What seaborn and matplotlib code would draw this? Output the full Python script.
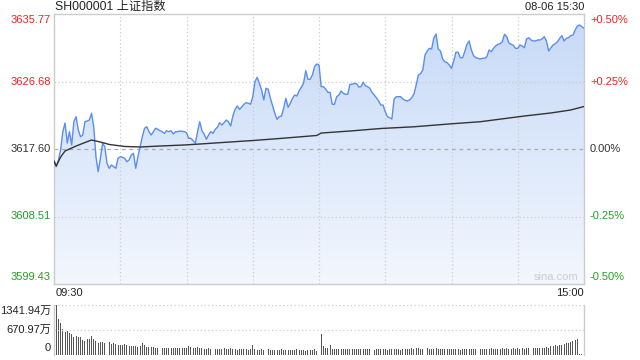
import numpy as np
import matplotlib
matplotlib.use("Agg")
import matplotlib.pyplot as plt
import seaborn as sns
from matplotlib.colors import LinearSegmentedColormap

sns.set_theme(style="white")
plt.rcParams['font.family'] = ['Liberation Sans', 'Noto Sans CJK SC', 'DejaVu Sans']

# ---- data (one value per minute, 09:30 .. 15:00) ----
prev_close = 3617.60
price_ticks = [3635.77, 3626.68, 3617.60, 3608.51, 3599.43]
pct_ticks = ["+0.50%", "+0.25%", "0.00%", "-0.25%", "-0.50%"]
vol_ticks = ["1341.94万", "670.97万", "0"]
vol_max = 1341.94

price = [
    3615.99, 3615.22, 3616.12, 3617.47, 3619.93, 3621.10, 3618.41, 3619.93, 3618.14, 3621.27,
    3621.95, 3620.16, 3619.26, 3619.48, 3621.27, 3621.37, 3621.50, 3622.41, 3620.60, 3616.56,
    3614.54, 3616.35, 3618.37, 3617.91, 3615.68, 3615.00, 3615.45, 3615.22, 3615.00, 3616.35,
    3616.56, 3616.48, 3616.35, 3615.89, 3616.12, 3616.79, 3617.02, 3615.00, 3616.56, 3617.91,
    3619.26, 3620.39, 3620.60, 3619.93, 3619.48, 3619.93, 3620.39, 3620.25, 3620.06, 3619.93,
    3619.71, 3620.06, 3619.93, 3620.06, 3619.62, 3619.93, 3619.93, 3620.02, 3619.98, 3619.93,
    3619.79, 3619.04, 3619.04, 3618.72, 3618.37, 3619.93, 3621.27, 3620.06, 3619.62, 3618.91,
    3619.48, 3619.93, 3619.71, 3620.25, 3620.52, 3621.14, 3620.83, 3621.14, 3621.50, 3621.27,
    3620.70, 3622.04, 3622.94, 3623.39, 3622.94, 3623.25, 3623.62, 3623.83, 3623.75, 3623.62,
    3624.64, 3626.66, 3627.25, 3626.44, 3625.54, 3624.20, 3625.77, 3625.64, 3624.42, 3623.39,
    3622.41, 3621.60, 3621.95, 3622.04, 3623.08, 3624.42, 3623.21, 3623.75, 3624.42, 3624.87,
    3624.73, 3625.45, 3625.90, 3626.44, 3628.14, 3626.98, 3626.98, 3627.56, 3628.68, 3629.04,
    3628.91, 3625.99, 3625.99, 3625.68, 3625.23, 3625.23, 3623.62, 3623.62, 3624.64, 3624.87,
    3625.41, 3625.10, 3624.96, 3624.96, 3626.31, 3626.31, 3626.44, 3626.39, 3625.95, 3625.99,
    3626.58, 3626.12, 3625.99, 3625.77, 3625.23, 3624.87, 3624.50, 3624.06, 3623.52, 3623.52,
    3622.62, 3621.95, 3621.81, 3621.64, 3624.33, 3624.64, 3624.64, 3624.64, 3624.33, 3624.15,
    3624.06, 3624.20, 3624.50, 3625.00, 3626.21, 3627.56, 3627.74, 3628.23, 3630.25, 3630.79,
    3631.15, 3631.06, 3632.54, 3633.08, 3631.06, 3630.79, 3629.71, 3629.35, 3629.22, 3628.91,
    3628.46, 3629.44, 3630.62, 3630.62, 3629.89, 3629.89, 3630.70, 3631.69, 3632.14, 3630.93,
    3630.16, 3629.89, 3629.81, 3629.71, 3629.81, 3629.81, 3630.02, 3630.93, 3630.70, 3631.15,
    3631.46, 3631.69, 3631.77, 3632.04, 3633.04, 3632.72, 3631.87, 3631.69, 3631.56, 3631.15,
    3631.15, 3631.60, 3631.46, 3631.23, 3632.41, 3632.58, 3632.27, 3632.14, 3632.14, 3632.27,
    3632.27, 3632.41, 3632.72, 3632.14, 3630.79, 3631.23, 3631.60, 3631.77, 3632.04, 3632.50,
    3632.85, 3632.14, 3632.50, 3632.58, 3632.85, 3632.94, 3633.62, 3634.16, 3634.29, 3634.06,
    3633.85,
]

# average price line, read at a set of minutes
avg_minute = [0, 1, 3, 5, 10, 14, 17, 21, 25, 32, 39, 48, 59, 66, 75, 90, 102, 119, 121,
              134, 148, 163, 179, 193, 213, 225, 234, 240]
avg_price = [3615.98, 3615.31, 3616.52, 3617.33, 3618.00, 3618.47, 3618.81, 3618.54, 3618.21,
             3617.94, 3617.87, 3618.00, 3618.14, 3618.27, 3618.45, 3618.74, 3619.01, 3619.42,
             3619.75, 3620.02, 3620.36, 3620.59, 3620.97, 3621.27, 3622.04, 3622.45, 3622.85,
             3623.32]

# volume per minute, in 万
volume = [
    400, 1341.94, 960, 860, 690, 630, 650, 600, 560, 490,
    510, 470, 470, 400, 380, 420, 440, 510, 430, 385,
    330, 360, 350, 330, 315, 360, 295, 315, 295, 270,
    270, 270, 290, 270, 240, 250, 230, 240, 220, 235,
    330, 280, 220, 210, 205, 215, 200, 195, 210, 190,
    200, 185, 195, 190, 180, 200, 185, 175, 190, 195,
    180, 230, 210, 200, 185, 220, 190, 180, 165, 160,
    175, 150, 165, 170, 155, 160, 150, 175, 160, 150,
    185, 155, 160, 145, 170, 150, 160, 155, 145, 160,
    260, 150, 145, 140, 150, 135, 145, 150, 140, 130,
    145, 140, 135, 150, 130, 140, 145, 135, 140, 130,
    155, 125, 135, 145, 120, 130, 140, 125, 150, 115,
    130, 560, 240, 180, 175, 270, 165, 160, 170, 155,
    160, 165, 150, 160, 170, 155, 150, 160, 165, 150,
    155, 160, 150, 165, 155, 145, 160, 150, 155, 165,
    150, 145, 160, 170, 150, 155, 160, 145, 150, 165,
    155, 170, 175, 160, 200, 185, 165, 160, 210, 195,
    170, 165, 160, 175, 150, 160, 155, 165, 150, 160,
    155, 150, 165, 155, 145, 160, 150, 170, 155, 150,
    160, 165, 150, 160, 155, 170, 160, 150, 175, 165,
    160, 170, 160, 175, 165, 180, 160, 170, 185, 165,
    175, 170, 180, 165, 190, 175, 170, 185, 180, 195,
    175, 200, 190, 210, 195, 240, 230, 260, 245, 270,
    280, 300, 320, 330, 360, 380, 400, 430, 15, 15,
    626,
]

minutes = np.arange(len(price))
assert len(volume) == len(price) == 241

RED = "#ee2222"
GREEN = "#22a022"
GRID = "#cccccc"

fig = plt.figure(figsize=(6.4, 3.6), dpi=100)
W, H = 640, 360


def px_rect(x0, y0, x1, y1):
    return [x0 / W, 1 - y1 / H, (x1 - x0) / W, (y1 - y0) / H]


def ftext(x, y, s, size=8, **kw):
    fig.text(x / W, 1 - y / H, s, va="center", fontsize=size, **kw)


ax = fig.add_axes(px_rect(54, 14, 584, 284))
axv = fig.add_axes(px_rect(54, 305, 584, 355))

ymin, ymax = price_ticks[-1], price_ticks[0]

# gradient fill under the price line
cmap = LinearSegmentedColormap.from_list("fill", ["#c6d9f7", "#f3f7fe"])
grad = np.linspace(0, 1, 256).reshape(-1, 1)
im = ax.imshow(grad, extent=[0, 240, ymin, ymax], aspect="auto", cmap=cmap,
               origin="upper", zorder=1)
poly = ax.fill_between(minutes, price, ymin, color="none", lw=0)
im.set_clip_path(poly.get_paths()[0], transform=ax.transData)

sns.lineplot(x=minutes, y=price, ax=ax, color="#5b8def", lw=1.0, zorder=3)
sns.lineplot(x=avg_minute, y=avg_price, ax=ax, color="#333333", lw=1.0, zorder=4)

ax.set_xlim(0, 240)
ax.set_ylim(ymin, ymax)
for m in range(30, 240, 30):
    ax.axvline(m, color=GRID, ls=(0, (1, 2)), lw=0.9, zorder=2)
for v in (price_ticks[1], price_ticks[3]):
    ax.axhline(v, color=GRID, ls=(0, (1, 2)), lw=0.9, zorder=2)
ax.axhline(prev_close, color="#aaaaaa", ls=(0, (3, 3)), lw=0.9, zorder=2)
ax.set_xticks([])
ax.set_yticks([])
ax.set_xlabel("")
ax.set_ylabel("")
for sp in ax.spines.values():
    sp.set_color(GRID)
    sp.set_linewidth(1)

# volume panel
sns.barplot(x=minutes, y=volume, ax=axv, native_scale=True, color="#555555",
            width=0.45, saturation=1, linewidth=0)
for p in axv.patches:
    p.set_antialiased(False)
axv.set_xlim(0, 240)
axv.set_ylim(0, vol_max)
axv.axhline(vol_max, color=GRID, ls=(0, (1, 2)), lw=0.9)
axv.axhline(vol_max / 2, color=GRID, ls=(0, (1, 2)), lw=0.9)
axv.set_xticks([])
axv.set_yticks([])
axv.set_xlabel("")
axv.set_ylabel("")
for name, sp in axv.spines.items():
    sp.set_color(GRID)
    sp.set_linewidth(1)
    sp.set_visible(name in ("left", "right"))

# texts
ftext(55, 7, "SH000001 上证指数", size=8.8, ha="left", color="#222222")
ftext(584, 7, "08-06 15:30", ha="right", color="#222222")

left_y = [20, 82, 149, 216, 277]
colors = [RED, RED, "#333333", GREEN, GREEN]
for yv, val, pc, c in zip(left_y, price_ticks, pct_ticks, colors):
    ftext(51, yv, f"{val:.2f}", ha="right", color=c)
    ftext(590, yv, pc, ha="left", color=c)

ftext(56, 293, "09:30", ha="left", color="#222222")
ftext(584, 293, "15:00", ha="right", color="#222222")
ftext(556, 277, "sina.com", ha="center", color="#cccccc")

for yv, lab in zip([311, 330, 348], vol_ticks):
    ftext(51, yv, lab, ha="right", color="#222222")

fig.savefig("out.png", dpi=100)
